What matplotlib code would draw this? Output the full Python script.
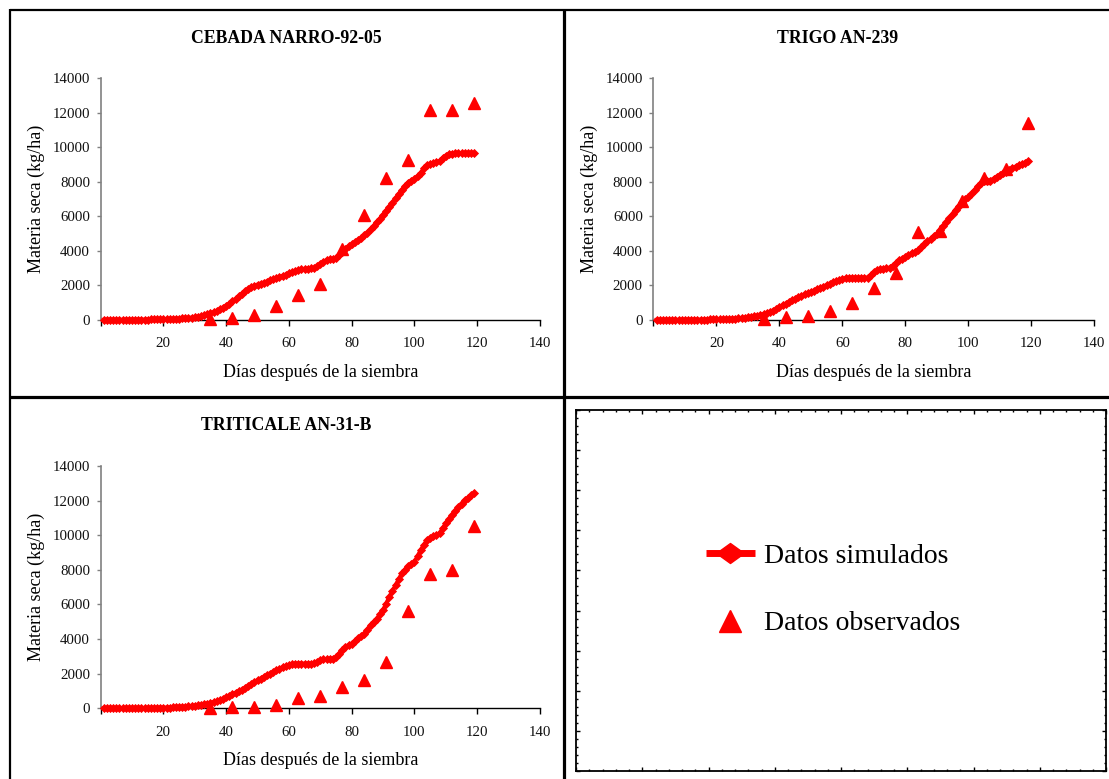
import matplotlib
matplotlib.use("Agg")
import numpy as np
import matplotlib.pyplot as plt
from matplotlib.lines import Line2D
from matplotlib.path import Path
from matplotlib.ticker import FixedLocator

plt.rcParams['font.family'] = ['Liberation Serif', 'DejaVu Serif']

# ---------------------------------------------------------------- data
dias_sim = list(range(1, 120))
dias_obs = [35, 42, 49, 56, 63, 70, 77, 84, 91, 98, 105, 112, 119]

cebada_sim = [
    5, 6, 7, 8, 9, 10, 11, 12, 14, 15,
    17, 19, 21, 23, 26, 29, 32, 36, 40, 45,
    50, 56, 62, 70, 78, 88, 100, 115, 135, 160,
    190, 225, 270, 320, 380, 450, 530, 620, 720, 830,
    950, 1080, 1220, 1370, 1520, 1660, 1790, 1900, 1980, 2050,
    2110, 2170, 2230, 2290, 2350, 2420, 2490, 2560, 2630, 2700,
    2770, 2840, 2890, 2930, 2960, 2980, 2990, 3000, 3100, 3260,
    3380, 3460, 3510, 3550, 3620, 3780, 3960, 4120, 4260, 4380,
    4500, 4630, 4760, 4900, 5060, 5250, 5450, 5660, 5870, 6080,
    6320, 6560, 6800, 7040, 7280, 7520, 7760, 7960, 8080, 8180,
    8320, 8520, 8780, 8950, 9050, 9100, 9140, 9200, 9380, 9520,
    9600, 9640, 9650, 9650, 9650, 9650, 9650, 9650, 9650,
]
cebada_obs = [50, 100, 300, 800, 1450, 2100, 4100, 6070, 8200, 9250, 12150, 12190, 12570]

trigo_sim = [
    3, 4, 5, 6, 7, 8, 9, 10, 11, 12,
    14, 15, 17, 19, 21, 23, 26, 29, 32, 36,
    40, 45, 52, 60, 70, 82, 96, 112, 130, 155,
    180, 210, 250, 295, 345, 400, 470, 550, 640, 740,
    840, 940, 1040, 1140, 1240, 1330, 1410, 1480, 1560, 1630,
    1700, 1780, 1860, 1940, 2020, 2100, 2180, 2250, 2320, 2380,
    2420, 2440, 2450, 2450, 2450, 2450, 2450, 2460, 2600, 2760,
    2870, 2930, 2960, 2990, 3030, 3150, 3300, 3450, 3550, 3650,
    3760, 3860, 3950, 4050, 4200, 4380, 4550, 4700, 4850, 5000,
    5200, 5420, 5660, 5900, 6150, 6400, 6620, 6820, 6980, 7120,
    7300, 7520, 7750, 7950, 8060, 8060, 8080, 8180, 8300, 8400,
    8500, 8600, 8700, 8790, 8880, 8960, 9040, 9120, 9200,
]
trigo_obs = [50, 150, 230, 540, 1000, 1830, 2700, 5110, 5130, 6870, 8250, 8770, 11410]

triticale_sim = [
    3, 4, 5, 6, 7, 8, 9, 10, 11, 12,
    14, 15, 17, 19, 21, 23, 26, 29, 32, 36,
    40, 45, 52, 60, 70, 82, 96, 112, 130, 155,
    180, 205, 235, 270, 310, 360, 415, 480, 550, 630,
    720, 810, 900, 990, 1080, 1180, 1290, 1400, 1510, 1620,
    1720, 1820, 1920, 2010, 2100, 2190, 2280, 2370, 2450, 2510,
    2550, 2570, 2580, 2580, 2580, 2580, 2580, 2590, 2680, 2770,
    2820, 2840, 2860, 2870, 2960, 3150, 3350, 3540, 3650, 3740,
    3880, 4040, 4180, 4310, 4550, 4800, 4990, 5180, 5420, 5660,
    6040, 6430, 6770, 7110, 7450, 7790, 8010, 8230, 8340, 8460,
    8780, 9140, 9430, 9710, 9830, 9940, 10020, 10100, 10390, 10680,
    10920, 11160, 11400, 11640, 11830, 12020, 12160, 12300, 12440,
]
triticale_obs = [30, 50, 100, 190, 620, 710, 1230, 1660, 2660, 5620, 7750, 7980, 10560]

x_ticks = [0, 20, 40, 60, 80, 100, 120, 140]
x_ticklabels = ['', '20', '40', '60', '80', '100', '120', '140']
y_ticks = [0, 2000, 4000, 6000, 8000, 10000, 12000, 14000]
y_ticklabels = ['0', '2000', '4000', '6000', '8000', '10000', '12000', '14000']

xlabel = 'Días después de la siembra'
ylabel = 'Materia seca (kg/ha)'
label_sim = 'Datos simulados'
label_obs = 'Datos observados'

# ---------------------------------------------------------------- layout helpers
W, H = 1109, 779
fig = plt.figure(figsize=(W / 100, H / 100), dpi=100)
fig.patch.set_facecolor('white')


def fx(px):
    return px / W


def fy(py):
    return 1 - py / H


RED = '#FF0000'
GRAY = '#808080'

# wide diamond used for the simulated series in the legend
wide_diamond = Path([(-1.0, 0.0), (0.0, 0.72), (1.0, 0.0), (0.0, -0.72), (-1.0, 0.0)],
                    [Path.MOVETO, Path.LINETO, Path.LINETO, Path.LINETO, Path.CLOSEPOLY])


def panel(left, top, right, bottom, title, title_x, title_base, sim, obs):
    ax = fig.add_axes([fx(left), fy(bottom), (right - left) / W, (bottom - top) / H])
    ax.plot(dias_sim, sim, color=RED, lw=3.0, marker='D', ms=4.0, mfc=RED, mec=RED,
            mew=0.6, clip_on=False, zorder=3)
    ax.plot(dias_obs, obs, ls='none', marker='^', ms=8.2, mfc=RED, mec=RED,
            clip_on=False, zorder=4)
    ax.set_xlim(0, 140)
    ax.set_ylim(0, 14000)
    for side in ('top', 'right'):
        ax.spines[side].set_visible(False)
    ax.spines['left'].set_color(GRAY)
    ax.spines['left'].set_linewidth(1.2)
    ax.spines['bottom'].set_color('black')
    ax.spines['bottom'].set_linewidth(1.0)
    ax.set_xticks(x_ticks)
    ax.set_xticklabels(x_ticklabels)
    ax.set_yticks(y_ticks)
    ax.set_yticklabels(y_ticklabels)
    ax.tick_params(axis='x', direction='out', length=4.1, width=1.0, color='black',
                   pad=8.3, labelsize=10.7, labelcolor='#111111')
    ax.tick_params(axis='y', direction='out', length=3.0, width=1.0, color=GRAY,
                   pad=4.6, labelsize=10.7, labelcolor='#111111')
    ax.set_facecolor('none')
    cx = (left + right) / 2
    cy = (top + bottom) / 2
    fig.text(fx(cx), fy(bottom + 57), xlabel, ha='center', va='baseline', fontsize=13)
    fig.text(fx(left - 64), fy(cy), ylabel, ha='center', va='center', rotation=90,
             fontsize=13)
    fig.text(fx(title_x), fy(title_base), title, ha='center', va='baseline',
             fontsize=12.8, fontweight='bold')
    return ax


panel(100.6, 78.3, 540.0, 320.0, 'CEBADA NARRO-92-05', 286, 43.3, cebada_sim, cebada_obs)
panel(653.4, 78.3, 1094.3, 320.0, 'TRIGO AN-239', 838, 43.3, trigo_sim, trigo_obs)
panel(100.6, 466.0, 540.0, 708.3, 'TRITICALE AN-31-B', 286, 429.5, triticale_sim, triticale_obs)

# ---------------------------------------------------------------- legend panel
lx0, ly0, lx1, ly1 = 576, 410, 1106, 771
axl = fig.add_axes([fx(lx0), fy(ly1), (lx1 - lx0) / W, (ly1 - ly0) / H])
axl.set_xlim(lx0, lx1)
axl.set_ylim(ly1, ly0)
for s in axl.spines.values():
    s.set_color('black')
    s.set_linewidth(1.3)
xt = np.linspace(lx0, lx1, 41)
yt = np.linspace(ly0, ly1, 46)
axl.xaxis.set_major_locator(FixedLocator(xt[::5]))
axl.xaxis.set_minor_locator(FixedLocator(xt))
axl.yaxis.set_major_locator(FixedLocator(yt[::5]))
axl.yaxis.set_minor_locator(FixedLocator(yt))
axl.tick_params(which='both', direction='in', top=True, bottom=True, left=True, right=True,
                labelbottom=False, labelleft=False, color='black', width=1.0)
axl.tick_params(which='major', length=3.2)
axl.tick_params(which='minor', length=1.6)

axl.plot([705.5, 754.5], [553.3, 553.3], color=RED, lw=5, solid_capstyle='butt')
axl.plot([730], [553.3], ls='none', marker=wide_diamond, ms=20, mfc=RED, mec=RED)
axl.plot([730], [620.5], ls='none', marker='^', ms=15.5, mfc=RED, mec=RED)
axl.text(764, 563.3, label_sim, ha='left', va='baseline', fontsize=20)
axl.text(764, 630.0, label_obs, ha='left', va='baseline', fontsize=20)

# ---------------------------------------------------------------- panel frame lines
frame = [
    ((10, 1109), (10, 10), 1.6),     # top edge
    ((10, 10), (9, 779), 1.6),       # left edge
    ((563.5, 563.5), (9, 779), 2.3),  # vertical divider
    ((10, 1109), (396.5, 396.5), 2.3),  # horizontal divider
]
for xs, ys, lw in frame:
    fig.add_artist(Line2D([fx(x) for x in xs], [fy(y) for y in ys], color='black',
                          lw=lw, solid_capstyle='butt'))

fig.savefig('out.png', dpi=100, facecolor='white')
